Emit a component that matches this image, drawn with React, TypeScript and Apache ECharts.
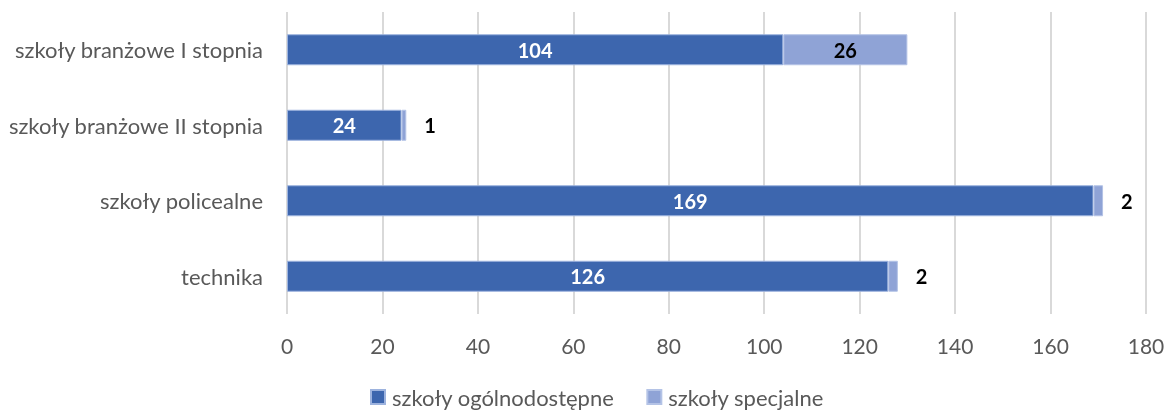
import React, { useEffect, useRef } from "react";
import * as echarts from "echarts";

const categories = [
  "szkoły branżowe I stopnia",
  "szkoły branżowe II stopnia",
  "szkoły policealne",
  "technika",
];
const ogolnodostepne = [104, 24, 169, 126];
const specjalne = [26, 1, 2, 2];
const seriesNames = ["szkoły ogólnodostępne", "szkoły specjalne"];

const FONT = "Lato, 'Open Sans', sans-serif";

export default function App() {
  const ref = useRef<HTMLDivElement>(null);
  useEffect(() => {
    if (!ref.current) return;
    const chart = echarts.init(ref.current, null, { renderer: "svg" });
    chart.setOption({
      animation: false,
      textStyle: { fontFamily: FONT },
      grid: { left: 287, right: 22, top: 12, bottom: 96, containLabel: false },
      legend: {
        bottom: -3,
        left: 365,
        itemWidth: 14,
        itemHeight: 14,
        itemGap: 32,
        icon: "rect",
        textStyle: { fontSize: 22, color: "#595959", fontFamily: FONT, padding: [0, 0, 0, 2] },
        data: seriesNames,
      },
      xAxis: {
        type: "value",
        min: 0,
        max: 180,
        interval: 20,
        axisLine: { show: false },
        axisTick: { show: false },
        axisLabel: { fontSize: 21, color: "#595959", margin: 21, fontFamily: FONT },
        splitLine: { show: true, lineStyle: { color: "#D9D9D9", width: 2 } },
      },
      yAxis: {
        type: "category",
        inverse: true,
        data: categories,
        axisLine: { show: false },
        axisTick: { show: false },
        axisLabel: { fontSize: 22, color: "#595959", margin: 24, fontFamily: FONT },
      },
      series: [
        {
          name: seriesNames[0],
          type: "bar",
          stack: "total",
          barWidth: 31,
          data: ogolnodostepne,
          itemStyle: { color: "#3D66AE", borderColor: "#9DB3DE", borderWidth: 1 },
          label: {
            show: true,
            position: "inside",
            color: "#FFFFFF",
            fontWeight: "bold",
            fontSize: 20,
            fontFamily: FONT,
          },
        },
        {
          name: seriesNames[1],
          type: "bar",
          stack: "total",
          barWidth: 31,
          data: specjalne.map((v) => ({
            value: v,
            label:
              v >= 10
                ? { position: "inside" }
                : { position: "right", distance: 18 },
          })),
          itemStyle: { color: "#8FA3D6", borderColor: "#B4C3E6", borderWidth: 1 },
          label: {
            show: true,
            color: "#000000",
            fontWeight: "bold",
            fontSize: 20,
            fontFamily: FONT,
          },
        },
      ],
    });
    return () => chart.dispose();
  }, []);
  return (
    <div
      ref={ref}
      style={{ position: "fixed", left: 0, top: 0, width: 1168, height: 410 }}
    />
  );
}
